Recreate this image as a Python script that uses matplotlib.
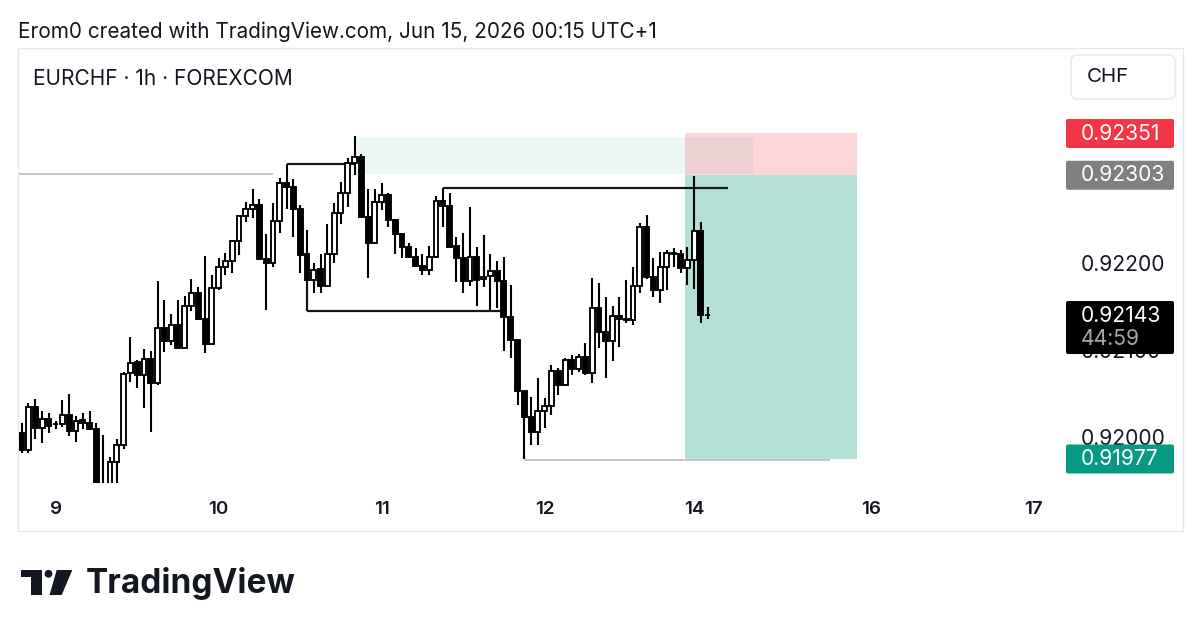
import matplotlib
matplotlib.use("Agg")
import matplotlib.pyplot as plt
from matplotlib.patches import Rectangle, FancyBboxPatch, Circle, Polygon

plt.rcParams["font.family"] = ["Inter", "DejaVu Sans"]

# ---------------- data (EURCHF 1h) ----------------
opens = [0.92007, 0.91987, 0.92037, 0.92013, 0.92023, 0.92017, 0.92017, 0.92028, 0.92009, 0.92022,
         0.92018, 0.92011, 0.91936, 0.91944, 0.91974, 0.91993, 0.92076, 0.92088, 0.92074, 0.92092,
         0.92064, 0.92128, 0.92113, 0.92131, 0.92105, 0.92153, 0.92168, 0.92138, 0.92109, 0.92173,
         0.92198, 0.92205, 0.92227, 0.92256, 0.92264, 0.92269, 0.92207, 0.92202, 0.92250, 0.92294,
         0.92290, 0.92264, 0.92212, 0.92183, 0.92195, 0.92176, 0.92213, 0.92260, 0.92283, 0.92317,
         0.92324, 0.92255, 0.92225, 0.92272, 0.92280, 0.92252, 0.92235, 0.92221, 0.92209, 0.92199,
         0.92194, 0.92209, 0.92273, 0.92268, 0.92222, 0.92208, 0.92182, 0.92209, 0.92184, 0.92187,
         0.92193, 0.92182, 0.92140, 0.92114, 0.92055, 0.92025, 0.92008, 0.92032, 0.92038, 0.92078,
         0.92062, 0.92091, 0.92080, 0.92094, 0.92076, 0.92150, 0.92123, 0.92113, 0.92141, 0.92138,
         0.92137, 0.92176, 0.92244, 0.92186, 0.92171, 0.92198, 0.92214, 0.92213, 0.92196, 0.92206,
         0.92239, 0.92143]
highs = [0.92018, 0.92041, 0.92046, 0.92032, 0.92030, 0.92021, 0.92045, 0.92052, 0.92026, 0.92030,
         0.92032, 0.92018, 0.92005, 0.91979, 0.92000, 0.92077, 0.92117, 0.92091, 0.92103, 0.92101,
         0.92182, 0.92160, 0.92144, 0.92160, 0.92164, 0.92184, 0.92175, 0.92210, 0.92188, 0.92208,
         0.92214, 0.92229, 0.92257, 0.92272, 0.92287, 0.92276, 0.92236, 0.92271, 0.92300, 0.92316,
         0.92299, 0.92269, 0.92240, 0.92202, 0.92213, 0.92247, 0.92271, 0.92295, 0.92323, 0.92348,
         0.92327, 0.92287, 0.92287, 0.92294, 0.92283, 0.92253, 0.92236, 0.92225, 0.92219, 0.92213,
         0.92222, 0.92279, 0.92288, 0.92283, 0.92232, 0.92237, 0.92267, 0.92221, 0.92234, 0.92213,
         0.92205, 0.92209, 0.92177, 0.92114, 0.92055, 0.92048, 0.92070, 0.92047, 0.92085, 0.92082,
         0.92093, 0.92096, 0.92098, 0.92110, 0.92185, 0.92179, 0.92163, 0.92153, 0.92163, 0.92183,
         0.92198, 0.92248, 0.92257, 0.92208, 0.92215, 0.92217, 0.92219, 0.92217, 0.92221, 0.92302,
         0.92249, 0.92152]
lows = [0.91984, 0.91984, 0.92000, 0.91995, 0.92007, 0.92011, 0.92014, 0.92003, 0.91997, 0.92011,
        0.92011, 0.91930, 0.91924, 0.91936, 0.91945, 0.91988, 0.92065, 0.92059, 0.92036, 0.92008,
        0.92062, 0.92100, 0.92108, 0.92104, 0.92104, 0.92147, 0.92137, 0.92099, 0.92108, 0.92171,
        0.92188, 0.92191, 0.92211, 0.92249, 0.92254, 0.92206, 0.92148, 0.92198, 0.92237, 0.92264,
        0.92232, 0.92191, 0.92182, 0.92168, 0.92168, 0.92175, 0.92202, 0.92247, 0.92267, 0.92303,
        0.92255, 0.92185, 0.92225, 0.92263, 0.92244, 0.92213, 0.92208, 0.92208, 0.92198, 0.92188,
        0.92188, 0.92209, 0.92244, 0.92219, 0.92180, 0.92168, 0.92176, 0.92153, 0.92175, 0.92147,
        0.92150, 0.92101, 0.92093, 0.92039, 0.91977, 0.91993, 0.91993, 0.92013, 0.92028, 0.92050,
        0.92061, 0.92073, 0.92077, 0.92073, 0.92064, 0.92105, 0.92070, 0.92090, 0.92106, 0.92133,
        0.92131, 0.92168, 0.92184, 0.92163, 0.92156, 0.92171, 0.92198, 0.92191, 0.92177, 0.92172,
        0.92133, 0.92138]
closes = [0.91987, 0.92037, 0.92013, 0.92023, 0.92015, 0.92017, 0.92028, 0.92009, 0.92021, 0.92018,
          0.92011, 0.91936, 0.91941, 0.91974, 0.91993, 0.92075, 0.92087, 0.92074, 0.92092, 0.92064,
          0.92128, 0.92113, 0.92131, 0.92105, 0.92153, 0.92168, 0.92138, 0.92109, 0.92173, 0.92198,
          0.92205, 0.92227, 0.92256, 0.92264, 0.92269, 0.92207, 0.92202, 0.92250, 0.92294, 0.92290,
          0.92264, 0.92211, 0.92183, 0.92194, 0.92176, 0.92213, 0.92260, 0.92283, 0.92317, 0.92324,
          0.92255, 0.92225, 0.92272, 0.92280, 0.92252, 0.92235, 0.92221, 0.92209, 0.92199, 0.92194,
          0.92209, 0.92273, 0.92268, 0.92221, 0.92208, 0.92182, 0.92209, 0.92183, 0.92186, 0.92193,
          0.92182, 0.92140, 0.92114, 0.92055, 0.92025, 0.92008, 0.92032, 0.92038, 0.92078, 0.92062,
          0.92091, 0.92080, 0.92094, 0.92076, 0.92150, 0.92123, 0.92113, 0.92141, 0.92138, 0.92137,
          0.92176, 0.92244, 0.92186, 0.92171, 0.92198, 0.92214, 0.92213, 0.92196, 0.92206, 0.92239,
          0.92143, 0.92143]

day_ticks = [5, 29, 53, 77, 99, 125, 149]
day_labels = ["9", "10", "11", "12", "14", "16", "17"]

# short position tool
pos_start, pos_end = 97.7, 123.0
entry_price, stop_price, target_price = 0.92303, 0.92351, 0.91977
# supply zone
zone_start, zone_end = 49.1, 107.6
zone_low, zone_high = 0.92304, 0.92347
# drawn lines: (x0, x1, price)
grey_lines = [(-1.0, 37.0, 0.92304), (74.0, 119.0, 0.91976)]
black_hlines = [(39.0, 49.0, 0.92316), (42.0, 71.0, 0.92147), (62.0, 104.0, 0.92288)]
black_vlines = [(42.0, 0.92147, 0.92183)]

axis_prices = [0.92200, 0.92100, 0.92000]
last_price = closes[-1]
countdown = "44:59"

# ---------------- layout ----------------
W, H = 1200, 636
fig = plt.figure(figsize=(W / 100, H / 100), dpi=100)
fig.patch.set_facecolor("white")

ov = fig.add_axes([0, 0, 1, 1])
ov.set_xlim(0, W)
ov.set_ylim(H, 0)
ov.axis("off")

# frame
ov.add_patch(Rectangle((18, 47.5), 1165, 483.5, facecolor="white", edgecolor="#e6e8ee", lw=1.0, zorder=0))
ov.text(18, 32, "Erom0 created with TradingView.com, Jun 15, 2026 00:15 UTC+1",
        fontsize=14.9, color="#131722", va="center", ha="left")
ov.text(33, 79, "EURCHF · 1h · FOREXCOM", fontsize=15, color="#131722", va="center", ha="left")
ov.add_patch(FancyBboxPatch((1071, 55), 104, 44, boxstyle="round,pad=0,rounding_size=6",
                            facecolor="white", edgecolor="#e6e8ee", lw=1.0, zorder=2))
ov.text(1108, 77, "CHF", fontsize=14.8, color="#131722", va="center", ha="center", zorder=3)

# TradingView logo
ov.add_patch(Rectangle((21, 570), 20.7, 7.3, facecolor="#131722", lw=0))
ov.add_patch(Rectangle((31, 570), 10.7, 25, facecolor="#131722", lw=0))
ov.add_patch(Circle((48.5, 573.8), 3.9, facecolor="#131722", lw=0))
ov.add_patch(Polygon([(56.7, 570), (72.3, 570), (61.7, 595), (49.5, 595)], closed=True,
                     facecolor="#131722", lw=0))
ov.text(86, 583, "TradingView", fontsize=24, fontweight="bold", color="#131722",
        va="center", ha="left")

# pixel calibration of the price pane
pane_left, pane_right, pane_top, pane_bot = 19, 1062, 48, 483
x_first, bar_px = 21.7, 6.792
px_per_price = 87032.0
ref_price, ref_px = 0.92351, 133.5

ymax = ref_price + (ref_px - pane_top) / px_per_price
ymin = ref_price - (pane_bot - ref_px) / px_per_price
xmin = (pane_left - x_first) / bar_px
xmax = (pane_right - x_first) / bar_px

ax = fig.add_axes([pane_left / W, 1 - pane_bot / H, (pane_right - pane_left) / W,
                   (pane_bot - pane_top) / H])
ax.set_facecolor("none")
ax.set_xlim(xmin, xmax)
ax.set_ylim(ymin, ymax)
for s in ax.spines.values():
    s.set_visible(False)
ax.set_yticks([])
ax.set_xticks(day_ticks)
ax.set_xticklabels(day_labels, fontsize=13.5, fontweight="semibold", color="#131722")
ax.tick_params(axis="x", length=0, pad=13)

# zones
ax.add_patch(Rectangle((zone_start, zone_low), zone_end - zone_start, zone_high - zone_low,
                       facecolor="#089981", alpha=0.07, lw=0, zorder=1))
ax.add_patch(Rectangle((pos_start, entry_price), pos_end - pos_start, stop_price - entry_price,
                       facecolor="#f23645", alpha=0.2, lw=0, zorder=1))
ax.add_patch(Rectangle((pos_start, target_price), pos_end - pos_start, entry_price - target_price,
                       facecolor="#089981", alpha=0.3, lw=0, zorder=1))

for x0, x1, p in grey_lines:
    ax.plot([x0, x1], [p, p], color="#c4c4c4", lw=1.4, zorder=2, solid_capstyle="butt")
for x0, x1, p in black_hlines:
    ax.plot([x0, x1], [p, p], color="#131722", lw=1.6, zorder=4, solid_capstyle="butt")
for x, p0, p1 in black_vlines:
    ax.plot([x, x], [p0, p1], color="#131722", lw=1.6, zorder=4, solid_capstyle="butt")

# candles
idx = list(range(len(opens)))
ax.vlines(idx, lows, highs, color="black", lw=1.5, zorder=5)
bw = 0.72
for i, o, c in zip(idx, opens, closes):
    bottom = min(o, c)
    height = abs(c - o)
    up = c > o
    ax.add_patch(Rectangle((i - bw / 2, bottom), bw, height,
                           facecolor="white" if up else "black", edgecolor="black",
                           lw=1.35, zorder=6))

# price scale
ax2 = fig.add_axes([pane_right / W, 1 - pane_bot / H, (1183 - pane_right) / W,
                    (pane_bot - pane_top) / H])
ax2.set_xlim(0, 1183 - pane_right)
ax2.set_ylim(ymin, ymax)
ax2.axis("off")
ax2.set_facecolor("none")

lab_x, box_x0, box_w = 18.5, 4, 108
ppx = 1.0 / px_per_price
for p in axis_prices:
    ax2.text(lab_x, p, f"{p:.5f}", fontsize=15.2, color="#131722", va="center", ha="left", zorder=2)


def price_box(p, color, text, h_px=29):
    ax2.add_patch(FancyBboxPatch((box_x0, p - h_px / 2 * ppx), box_w, h_px * ppx,
                                 boxstyle="round,pad=0,rounding_size=2", mutation_aspect=ppx,
                                 facecolor=color, edgecolor="none", zorder=5))
    ax2.text(lab_x, p, text, fontsize=15.2, color="white", va="center", ha="left", zorder=6)


price_box(stop_price, "#f23645", f"{stop_price:.5f}")
price_box(entry_price, "#808080", f"{entry_price:.5f}")
price_box(target_price, "#089981", f"{target_price:.5f}")

# last price + countdown
ax2.add_patch(FancyBboxPatch((box_x0, last_price - 39.5 * ppx), box_w, 53 * ppx,
                             boxstyle="round,pad=0,rounding_size=2", mutation_aspect=ppx,
                             facecolor="black", edgecolor="none", zorder=5))
ax2.text(lab_x, last_price - 1.5 * ppx, f"{last_price:.5f}", fontsize=15.2, color="white",
         va="center", ha="left", zorder=6)
ax2.text(lab_x, last_price - 24 * ppx, countdown, fontsize=15.2, color="#a8a8a8",
         va="center", ha="left", zorder=6)

fig.savefig("out.png", dpi=100, facecolor="white")
